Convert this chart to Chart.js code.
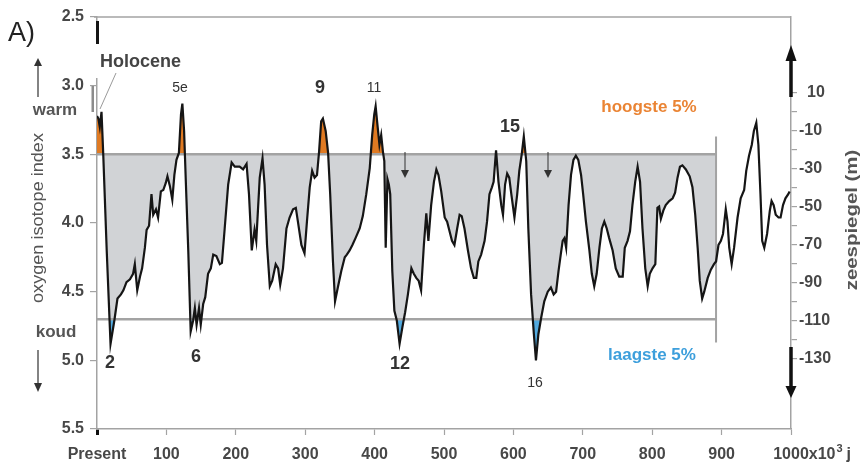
<!DOCTYPE html>
<html>
<head>
<meta charset="utf-8">
<script src="https://cdn.jsdelivr.net/npm/chart.js@4.4.1/dist/chart.umd.min.js"></script>
<style>
  body { margin: 0; background: #fff; }
  canvas { display: block; }
</style>
</head>
<body>
<canvas id="chart" width="860" height="465"></canvas>
<script>
// age in 10^3 years and the oxygen isotope index
const ages = [0, 2, 4, 6.5, 9, 14, 19.5, 25, 29.5, 34.5, 38, 42.5, 47.5, 52, 54.5, 58, 62, 65, 69, 71.5,
  75, 78.5, 81, 85, 88, 92, 95.5, 99, 101.5, 105, 108.5, 111.5, 114.5, 118, 121, 123, 125.5, 128, 131.5, 135,
  138.5, 141, 143.5, 147, 149.5, 153, 156, 160, 164, 167.5, 172, 177, 180, 184, 189, 194, 198.5, 205.5, 210.5, 215.5,
  219, 223, 227, 229.5, 234.5, 238.5, 241.5, 245, 249, 252.5, 257.5, 261, 264, 268, 273, 277.5, 282.5, 286.5, 289.5, 294.5,
  299, 302.5, 306.5, 310, 313.5, 317, 320, 323, 325.5, 329.5, 333, 336, 340, 343, 347, 352, 357, 360, 364, 368,
  372.5, 378.5, 383, 388, 393, 396.5, 399.5, 401.5, 404, 407, 409.5, 412, 414, 416, 418.5, 420.5, 422.5, 425.5, 428.5, 432,
  436, 440, 444, 448, 453, 456.5, 460, 463.5, 467, 471, 474.5, 477.5, 481.5, 485.5, 489, 492, 496, 501, 504.5, 508,
  511.5, 515, 519, 522.5, 525.5, 529.5, 534.5, 539, 543, 546.5, 549.5, 553.5, 558.5, 562, 565.5, 569, 571.5, 575, 578.5, 582.5,
  585, 588, 591, 594, 597, 601.5, 605.5, 608.5, 612, 615, 618.5, 621.5, 625.5, 629.5, 632.5, 636, 640, 644.5, 649.5, 654,
  658, 661.5, 665, 668.5, 671, 673.5, 676, 679.5, 683, 686.5, 690, 693.5, 697.5, 700.5, 704.5, 709.5, 713, 716.5, 720, 724,
  727.5, 731, 734.5, 738, 743, 747.5, 752.5, 757.5, 760.5, 764.5, 768, 771.5, 775.5, 779, 782.5, 786, 790, 793.5, 796.5, 800.5,
  804.5, 807.5, 810, 812.5, 816, 819.5, 824.5, 829.5, 833, 836.5, 840, 843.5, 848.5, 854, 858, 862, 865.5, 868.5, 872, 875,
  880, 884.5, 889, 892, 895.5, 899, 902, 906, 908.5, 911, 914.5, 918, 923, 927.5, 932.5, 935.5, 939.5, 943.5, 946.5, 950,
  953, 956, 958.5, 961.5, 965.5, 969.5, 972, 975, 978, 982, 985, 988.5, 992, 996, 998];
const isotope = [3.22, 3.24, 3.30, 3.19, 3.50, 4.20, 4.88, 4.71, 4.55, 4.52, 4.49, 4.43, 4.41, 4.37, 4.30, 4.49, 4.39, 4.33, 4.18, 4.05,
  4.02, 3.79, 3.94, 3.90, 3.96, 3.77, 3.76, 3.71, 3.66, 3.73, 3.83, 3.65, 3.54, 3.49, 3.21, 3.13, 3.33, 3.70, 4.20, 4.79,
  4.71, 4.62, 4.74, 4.62, 4.74, 4.59, 4.54, 4.37, 4.33, 4.23, 4.24, 4.30, 4.29, 4.04, 3.72, 3.56, 3.59, 3.59, 3.61, 3.57,
  3.79, 4.20, 4.05, 4.13, 3.67, 3.53, 3.72, 4.16, 4.46, 4.42, 4.30, 4.33, 4.45, 4.33, 4.04, 3.96, 3.90, 3.89, 3.99, 4.16,
  4.22, 3.99, 3.74, 3.62, 3.67, 3.65, 3.48, 3.26, 3.24, 3.33, 3.49, 3.79, 4.28, 4.57, 4.47, 4.35, 4.25, 4.23, 4.20, 4.16,
  4.11, 4.04, 3.95, 3.79, 3.60, 3.36, 3.21, 3.15, 3.28, 3.43, 3.36, 3.48, 3.55, 4.18, 3.68, 3.72, 3.79, 4.35, 4.64, 4.71,
  4.88, 4.76, 4.65, 4.52, 4.33, 4.37, 4.40, 4.42, 4.49, 4.16, 3.93, 4.13, 3.87, 3.70, 3.61, 3.65, 3.77, 3.96, 3.99, 4.06,
  4.13, 4.16, 4.04, 3.94, 3.95, 4.04, 4.20, 4.33, 4.40, 4.40, 4.28, 4.23, 4.13, 3.99, 3.79, 3.74, 3.70, 3.47, 3.70, 3.87,
  3.94, 3.72, 3.64, 3.67, 3.79, 3.96, 3.79, 3.62, 3.50, 3.37, 3.55, 4.04, 4.52, 4.81, 5.00, 4.81, 4.69, 4.57, 4.50, 4.47,
  4.52, 4.50, 4.35, 4.22, 4.13, 4.11, 4.18, 3.87, 3.65, 3.54, 3.51, 3.54, 3.65, 3.79, 3.99, 4.20, 4.37, 4.46, 4.37, 4.18,
  4.04, 3.99, 4.04, 4.11, 4.20, 4.33, 4.39, 4.39, 4.18, 4.13, 4.06, 3.87, 3.70, 3.59, 3.70, 4.04, 4.33, 4.46, 4.37, 4.33,
  4.30, 3.89, 3.88, 3.97, 3.91, 3.87, 3.84, 3.82, 3.78, 3.67, 3.59, 3.58, 3.61, 3.66, 3.74, 3.94, 4.18, 4.42, 4.55, 4.50,
  4.40, 4.34, 4.30, 4.28, 4.16, 4.13, 4.08, 3.90, 3.99, 4.18, 4.30, 4.18, 3.96, 3.82, 3.76, 3.62, 3.51, 3.43, 3.33, 3.27,
  3.43, 3.79, 4.13, 4.18, 4.08, 3.91, 3.84, 3.87, 3.94, 3.96, 3.96, 3.87, 3.82, 3.79, 3.77];

const highLevel = 3.5;   // hoogste 5% boundary
const lowLevel = 4.7;    // laagste 5% boundary
const bandEnd = 892;     // grey band stops here
const bandTop = 3.37;
const bandBottom = 4.87;

const xTicks = [0, 100, 200, 300, 400, 500, 600, 700, 800, 900, 1000];
const seaTicks = [10, 0, -10, -20, -30, -40, -50, -60, -70, -80, -90, -100, -110, -120, -130];
const seaLabels = [10, -10, -30, -50, -70, -90, -110, -130];

const curve = ages.map((a, i) => ({ x: a, y: isotope[i] }));
const band = curve.filter(p => p.x <= bandEnd);

const FONT = '"Liberation Sans", Arial, sans-serif';
const tickFont = { family: FONT, size: 16, weight: 'bold' };
const axisGrey = '#a3a3a3';
const textGrey = '#474747';

function arrow(ctx, x, y1, y2, shaft, head, headLen) {
  // shaft from y1 to y2, head at y2
  const dir = Math.sign(y2 - y1);
  ctx.fillRect(x - shaft / 2, Math.min(y1, y2 - dir * headLen), shaft, Math.abs(y2 - dir * headLen - y1));
  ctx.beginPath();
  ctx.moveTo(x - head / 2, y2 - dir * headLen);
  ctx.lineTo(x + head / 2, y2 - dir * headLen);
  ctx.lineTo(x, y2);
  ctx.closePath();
  ctx.fill();
}

function label(ctx, s, x, y, font, color, align) {
  ctx.font = font;
  ctx.fillStyle = color;
  ctx.textAlign = align || 'center';
  ctx.textBaseline = 'middle';
  ctx.fillText(s, x, y);
}

function verticalLabel(ctx, s, x, y, font, color, stretch) {
  ctx.save();
  ctx.translate(x, y);
  ctx.rotate(-Math.PI / 2);
  ctx.scale(stretch, 1);
  label(ctx, s, 0, 0, font, color);
  ctx.restore();
}

const extras = {
  id: 'extras',
  beforeDraw(chart) {
    const ctx = chart.ctx;
    ctx.save();
    ctx.fillStyle = '#fff';
    ctx.fillRect(0, 0, chart.width, chart.height);
    ctx.restore();
  },
  afterDraw(chart) {
    const { ctx, chartArea: a } = chart;
    ctx.save();

    // frame top
    ctx.strokeStyle = axisGrey;
    ctx.lineWidth = 1.5;
    ctx.beginPath();
    ctx.moveTo(a.left - 3, a.top);
    ctx.lineTo(a.right, a.top);
    ctx.stroke();

    // gap in the left axis under 2.5, black Holocene bar
    ctx.fillStyle = '#fff';
    ctx.fillRect(a.left - 2, 44, 5, 34);
    ctx.fillStyle = '#151515';
    ctx.fillRect(a.left - 1, 21, 3, 23);
    ctx.fillStyle = '#8c8c8c';
    ctx.fillRect(91.5, 86, 2.5, 26);
    ctx.strokeStyle = '#9a9a9a';
    ctx.lineWidth = 1;
    ctx.beginPath();
    ctx.moveTo(116, 73);
    ctx.lineTo(100, 109);
    ctx.stroke();

    // left side texts and arrows
    label(ctx, 'A)', 8, 34, '27px ' + FONT, '#222', 'left');
    label(ctx, 'warm', 55, 110, 'bold 17px ' + FONT, '#555');
    label(ctx, 'koud', 56, 332, 'bold 17px ' + FONT, '#555');
    ctx.fillStyle = '#333';
    arrow(ctx, 38, 97, 58, 1.2, 8, 8);
    arrow(ctx, 38, 350, 392, 1.2, 8, 9);
    verticalLabel(ctx, 'oxygen isotope index', 39, 218, '16px ' + FONT, '#555', 1.13);

    // right axis arrows and title
    ctx.fillStyle = '#111';
    arrow(ctx, a.right, 97, 45, 3.5, 11, 16);
    arrow(ctx, a.right, 347, 398, 3.5, 11, 12);
    verticalLabel(ctx, 'zeespiegel (m)', 852, 220, 'bold 17px ' + FONT, '#555', 1.2);

    // rest of the last x label
    const xs = chart.scales.x;
    const x1000 = xs.getPixelForValue(1000);
    ctx.font = 'bold 16px ' + FONT;
    const w = ctx.measureText('1000').width;
    label(ctx, 'x10', x1000 + w / 2, 455, 'bold 16px ' + FONT, textGrey, 'left');
    const w2 = ctx.measureText('x10').width;
    label(ctx, '3', x1000 + w / 2 + w2 + 1, 449, 'bold 11px ' + FONT, textGrey, 'left');
    label(ctx, 'j', x1000 + w / 2 + w2 + 11, 455, 'bold 16px ' + FONT, textGrey, 'left');

    // annotations
    label(ctx, 'Holocene', 100, 62, 'bold 18px ' + FONT, '#444', 'left');
    label(ctx, '5e', 180, 88, '14px ' + FONT, '#333');
    label(ctx, '9', 320, 88, 'bold 18px ' + FONT, '#333');
    label(ctx, '11', 374, 88, '14px ' + FONT, '#333');
    label(ctx, '15', 510, 127, 'bold 18px ' + FONT, '#333');
    label(ctx, '2', 110, 363, 'bold 18px ' + FONT, '#333');
    label(ctx, '6', 196, 357, 'bold 18px ' + FONT, '#333');
    label(ctx, '12', 400, 364, 'bold 18px ' + FONT, '#333');
    label(ctx, '16', 535, 383, '14px ' + FONT, '#333');
    label(ctx, 'hoogste 5%', 649, 107, 'bold 17px ' + FONT, '#ea8434');
    label(ctx, 'laagste 5%', 652, 355, 'bold 17px ' + FONT, '#3d9fdc');

    ctx.fillStyle = '#333';
    arrow(ctx, 405, 152, 178, 1, 8, 8);
    arrow(ctx, 548, 152, 178, 1, 8, 8);

    ctx.restore();
  }
};

new Chart(document.getElementById('chart'), {
  type: 'line',
  data: {
    datasets: [
      { data: curve, borderColor: '#151515', borderWidth: 2.2, pointRadius: 0, fill: false, order: 0 },
      { data: [{ x: 0, y: highLevel }, { x: bandEnd, y: highLevel }], borderColor: axisGrey, borderWidth: 2.5, pointRadius: 0, fill: false, order: 1 },
      { data: [{ x: 0, y: lowLevel }, { x: bandEnd, y: lowLevel }], borderColor: axisGrey, borderWidth: 2.5, pointRadius: 0, fill: false, order: 1 },
      { data: [{ x: bandEnd, y: bandTop }, { x: bandEnd, y: bandBottom }], borderColor: axisGrey, borderWidth: 2, pointRadius: 0, fill: false, order: 1 },
      { data: band, borderColor: 'rgba(0,0,0,0)', borderWidth: 1, pointRadius: 0,
        fill: { target: { value: lowLevel }, above: 'rgba(0,0,0,0)', below: '#52aadf' }, order: 2 },
      { data: band, borderColor: 'rgba(0,0,0,0)', borderWidth: 1, pointRadius: 0,
        fill: { target: { value: highLevel }, above: '#e07a22', below: '#d1d3d6' }, order: 3 }
    ]
  },
  options: {
    responsive: false,
    animation: false,
    devicePixelRatio: 1,
    layout: { padding: { top: 17, left: 0, right: 0, bottom: 0 } },
    plugins: { legend: { display: false }, tooltip: { enabled: false } },
    scales: {
      x: {
        type: 'linear', min: 0, max: 1000,
        afterBuildTicks: s => { s.ticks = xTicks.map(v => ({ value: v })); },
        afterFit: s => { s.height = 36; },
        ticks: {
          autoSkip: false, maxRotation: 0, padding: 10, font: tickFont, color: textGrey,
          callback: v => v === 0 ? 'Present' : String(v)
        },
        grid: {
          drawOnChartArea: false, tickLength: 6,
          tickColor: c => c.tick && c.tick.value === 0 ? '#111' : axisGrey,
          tickWidth: c => c.tick && c.tick.value === 0 ? 3 : 1.2
        },
        border: { color: axisGrey, width: 1.5 }
      },
      y: {
        type: 'linear', min: 2.5, max: 5.5, reverse: true, position: 'left',
        afterFit: s => { s.width = 97; },
        ticks: { stepSize: 0.5, padding: 6, font: tickFont, color: textGrey, callback: v => Number(v).toFixed(1) },
        grid: { drawOnChartArea: false, tickLength: 7, color: axisGrey, lineWidth: 1.2 },
        border: { color: axisGrey, width: 1.5 }
      },
      y2: {
        type: 'linear', min: -167.4, max: 50, position: 'right',
        afterBuildTicks: s => { s.ticks = seaTicks.map(v => ({ value: v })); },
        afterFit: s => { s.width = 69; },
        ticks: {
          autoSkip: false, padding: 2, font: tickFont, color: textGrey,
          callback: v => seaLabels.includes(v) ? (v > 0 ? '\u2002' + v : String(v)) : ''
        },
        grid: { drawOnChartArea: false, tickLength: 6, color: axisGrey, lineWidth: 1.2 },
        border: { color: axisGrey, width: 1.5 }
      }
    }
  },
  plugins: [extras]
});
</script>
</body>
</html>
